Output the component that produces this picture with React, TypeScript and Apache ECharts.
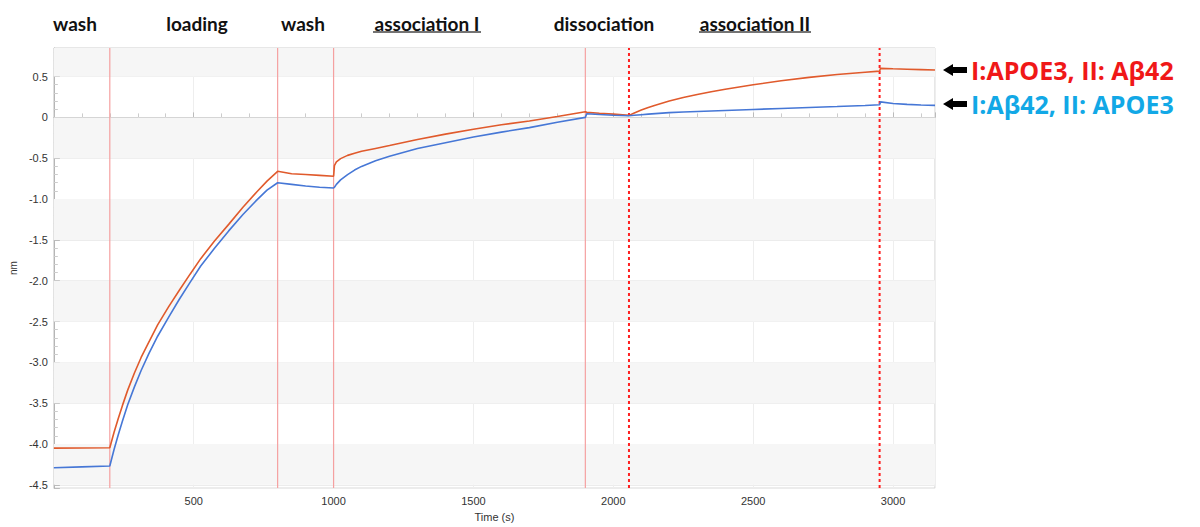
import React, { useEffect, useRef } from "react";
import * as echarts from "echarts";

const times = [0, 100, 200, 215, 230, 245, 264, 288, 312, 340, 371, 410, 448, 487, 525, 575, 625, 676, 726, 762, 800, 850, 900, 950, 1000, 1003, 1010, 1025, 1050, 1075, 1100, 1150, 1200, 1300, 1400, 1500, 1600, 1700, 1800, 1900, 1905, 1950, 2000, 2056, 2075, 2100, 2125, 2150, 2200, 2250, 2300, 2350, 2400, 2450, 2500, 2600, 2700, 2800, 2900, 2952, 2955, 3000, 3050, 3100, 3150];

const apoe3First = [-4.05, -4.048, -4.045, -3.86, -3.69, -3.53, -3.34, -3.13, -2.94, -2.75, -2.54, -2.32, -2.12, -1.92, -1.73, -1.51, -1.31, -1.1, -0.91, -0.78, -0.66, -0.69, -0.7, -0.71, -0.72, -0.59, -0.545, -0.505, -0.465, -0.44, -0.415, -0.38, -0.345, -0.27, -0.205, -0.145, -0.09, -0.045, 0.012, 0.07, 0.062, 0.05, 0.04, 0.025, 0.055, 0.09, 0.122, 0.15, 0.2, 0.243, 0.28, 0.315, 0.345, 0.373, 0.4, 0.448, 0.49, 0.525, 0.553, 0.567, 0.6, 0.595, 0.59, 0.585, 0.58];

const abetaFirst = [-4.29, -4.28, -4.27, -4.07, -3.89, -3.72, -3.52, -3.3, -3.1, -2.89, -2.68, -2.45, -2.23, -2.02, -1.82, -1.6, -1.39, -1.19, -1.01, -0.89, -0.8, -0.82, -0.84, -0.855, -0.865, -0.855, -0.82, -0.765, -0.7, -0.645, -0.6, -0.53, -0.475, -0.38, -0.31, -0.24, -0.18, -0.125, -0.06, 0.0, 0.045, 0.035, 0.027, 0.02, 0.026, 0.033, 0.04, 0.046, 0.058, 0.066, 0.073, 0.079, 0.085, 0.091, 0.097, 0.109, 0.121, 0.133, 0.146, 0.155, 0.19, 0.17, 0.16, 0.152, 0.147];

const Y_MIN = -4.54;
const Y_MAX = 0.85;
const solidPhaseLines = [200, 800, 1000, 1900];
const dashedPhaseLines = [2056, 2952];
const greyBands = [[0.5, 0.85], [-0.5, 0], [-1.5, -1], [-2.5, -2], [-3.5, -3], [-4.5, -4]];

const phaseLabels = ["wash", "loading", "wash", "association I", "dissociation", "association II"];
const phaseLabelX = [75, 197, 303, 427, 604, 755];
const underlined = [false, false, false, true, false, true];
const underlineSpan = [null, null, null, [373, 481], null, [699, 811]];

const legendTexts = ["I:APOE3, II: Aβ42", "I:Aβ42, II: APOE3"];
const legendColors = ["#f01818", "#12a8e6"];
const legendY = [70, 104];

const RED = "#e05a2c";
const BLUE = "#4677d6";

function arrow(y: number) {
  return {
    type: "polygon",
    shape: {
      points: [
        [943, y],
        [953, y - 6],
        [953, y - 3],
        [967, y - 3],
        [967, y + 3],
        [953, y + 3],
        [953, y + 6],
      ],
    },
    style: { fill: "#000" },
  };
}

export default function App() {
  const ref = useRef<HTMLDivElement>(null);
  useEffect(() => {
    if (!ref.current) return;
    const chart = echarts.init(ref.current, null, { renderer: "svg" });

    const graphics: any[] = [];
    phaseLabels.forEach((t, i) => {
      graphics.push({
        type: "text",
        x: phaseLabelX[i],
        y: 23,
        style: {
          text: t,
          fill: "#111",
          font: "bold 19px Lato",
          textAlign: "center",
          textVerticalAlign: "middle",
        },
      });
      const span = underlineSpan[i];
      if (underlined[i] && span) {
        graphics.push({
          type: "line",
          shape: { x1: span[0], y1: 32, x2: span[1], y2: 32 },
          style: { stroke: "#444", lineWidth: 1.5 },
        });
      }
    });
    legendTexts.forEach((t, i) => {
      graphics.push(arrow(legendY[i]));
      graphics.push({
        type: "text",
        x: 971,
        y: legendY[i],
        style: {
          text: t,
          fill: legendColors[i],
          font: 'bold 25px "Open Sans"',
          textAlign: "left",
          textVerticalAlign: "middle",
        },
      });
    });

    const vSeries = (x: number, color: string, width: number, type: any) => ({
      type: "line",
      silent: true,
      z: 2,
      showSymbol: false,
      symbol: "none",
      lineStyle: { color, width, type },
      emphasis: { disabled: true },
      data: [
        [x, Y_MIN],
        [x, Y_MAX],
      ],
    });

    chart.setOption({
      animation: false,
      backgroundColor: "#fff",
      grid: {
        left: 48,
        top: 48,
        right: 265,
        bottom: 35,
        show: true,
        borderColor: "#cfcfcf",
        borderWidth: 1,
        backgroundColor: "#fff",
      },
      graphic: graphics,
      xAxis: {
        type: "value",
        min: 0,
        max: 3150,
        interval: 500,
        name: "Time (s)",
        nameLocation: "middle",
        nameGap: 22,
        nameTextStyle: { fontSize: 11, color: "#333", fontFamily: "Liberation Sans" },
        axisLine: { show: true, lineStyle: { color: "#b5b5b5" } },
        axisTick: { show: true, inside: true, length: 5, lineStyle: { color: "#bbb" } },
        minorTick: { show: true, splitNumber: 5, length: 4, lineStyle: { color: "#ccc" } },
        axisLabel: {
          showMinLabel: false,
          showMaxLabel: false,
          fontSize: 11,
          color: "#333",
          fontFamily: "Liberation Sans",
          margin: 7,
          formatter: (v: number) => String(v),
        },
        splitLine: { show: true, lineStyle: { color: "#eeeeee" } },
      },
      yAxis: {
        type: "value",
        min: Y_MIN,
        max: Y_MAX,
        splitNumber: 10,
        name: "nm",
        nameLocation: "middle",
        nameRotate: 90,
        nameGap: 33,
        nameTextStyle: { fontSize: 10, color: "#333", fontFamily: "Liberation Sans" },
        axisLine: { show: true, lineStyle: { color: "#b5b5b5" } },
        axisTick: { show: true, inside: true, length: 6, lineStyle: { color: "#bbb" } },
        minorTick: { show: true, splitNumber: 5, length: 4, lineStyle: { color: "#ccc" } },
        axisLabel: {
          showMinLabel: false,
          showMaxLabel: false,
          fontSize: 11,
          color: "#333",
          fontFamily: "Liberation Sans",
          margin: 6,
          formatter: (v: number) => (Math.abs(v) < 1e-9 ? "0" : v.toFixed(1)),
        },
        splitLine: { show: true, lineStyle: { color: "#ececec" } },
      },
      series: [
        {
          name: "bands",
          type: "line",
          data: [],
          silent: true,
          z: 1,
          markArea: {
            silent: true,
            itemStyle: { color: "#f6f6f6" },
            data: greyBands.map((b) => [{ yAxis: b[0] }, { yAxis: b[1] }]),
          },
        },
        ...solidPhaseLines.map((x) => vSeries(x, "#f5a0a0", 1.2, "solid")),
        ...dashedPhaseLines.map((x) => vSeries(x, "#ff2020", 2, [3, 3])),
        {
          name: "I:APOE3, II: Aβ42",
          type: "line",
          z: 3,
          showSymbol: false,
          smooth: false,
          lineStyle: { color: RED, width: 1.6 },
          data: times.map((t, i) => [t, apoe3First[i]]),
        },
        {
          name: "I:Aβ42, II: APOE3",
          type: "line",
          z: 4,
          showSymbol: false,
          smooth: false,
          lineStyle: { color: BLUE, width: 1.6 },
          data: times.map((t, i) => [t, abetaFirst[i]]),
        },
      ],
    });
    return () => chart.dispose();
  }, []);
  return (
    <div
      ref={ref}
      style={{ position: "fixed", left: 0, top: 0, width: 1200, height: 527, background: "#fff" }}
    />
  );
}
